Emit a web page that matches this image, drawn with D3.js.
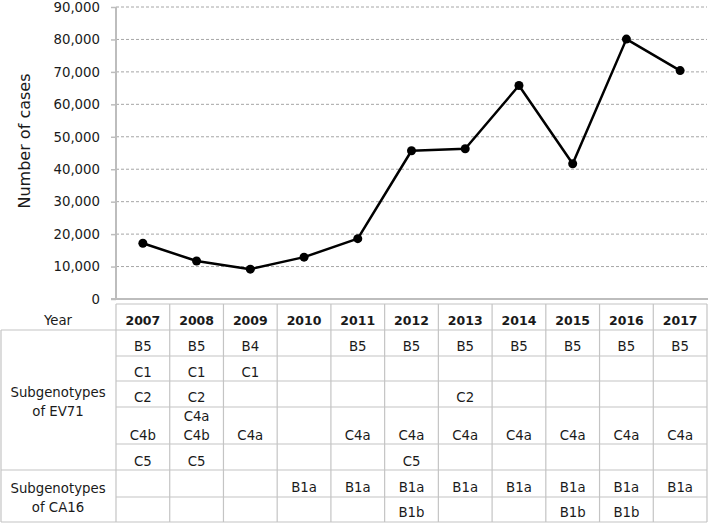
<!DOCTYPE html>
<html>
<head>
<meta charset="utf-8">
<script src="https://cdn.jsdelivr.net/npm/d3@7/dist/d3.min.js"></script>
<style>
  html, body { margin: 0; padding: 0; background: #fff; }
  svg { display: block; font-family: "DejaVu Sans", Verdana, sans-serif; }
</style>
</head>
<body>
<svg id="chart" width="709" height="523"></svg>
<script>
// ---------- data ----------
const years = ['2007','2008','2009','2010','2011','2012','2013','2014','2015','2016','2017'];
const cases = [17200, 11700, 9200, 12900, 18600, 45700, 46300, 65800, 41700, 80100, 70400];
const yTicks = [0, 10000, 20000, 30000, 40000, 50000, 60000, 70000, 80000, 90000];

const rowB5  = ['B5','B5','B4','','B5','B5','B5','B5','B5','B5','B5'];
const rowC1  = ['C1','C1','C1','','','','','','','',''];
const rowC2  = ['C2','C2','','','','','C2','','','',''];
const rowC4  = [['C4b'],['C4a','C4b'],['C4a'],[],['C4a'],['C4a'],['C4a'],['C4a'],['C4a'],['C4a'],['C4a']];
const rowC5  = ['C5','C5','','','','C5','','','','',''];
const rowB1a = ['','','','B1a','B1a','B1a','B1a','B1a','B1a','B1a','B1a'];
const rowB1b = ['','','','','','B1b','','','B1b','B1b',''];

const groupLabels = [['Subgenotypes','of EV71'], ['Subgenotypes','of CA16']];
const yearLabel = 'Year';
const yTitle = 'Number of cases';

// ---------- layout ----------
(function () {
const svg = d3.select('#chart');
const pLeft = 116, pRight = 707, pTop = 7, pBottom = 299;

const x = d3.scaleBand().domain(years).range([pLeft, pRight]).padding(0);
const y = d3.scaleLinear().domain([0, 90000]).range([pBottom, pTop]);

const grey = '#bdbdbd';
const textCol = '#1a1a1a';

// gridlines
svg.append('g').selectAll('line')
  .data(yTicks.filter(d => d > 0))
  .join('line')
  .attr('x1', pLeft).attr('x2', pRight)
  .attr('y1', d => y(d)).attr('y2', d => y(d))
  .attr('stroke', '#a6a6a6').attr('stroke-width', 1)
  .attr('stroke-dasharray', '3,2');

// y axis
const yAxis = d3.axisLeft(y).tickValues(yTicks).tickFormat(d3.format(',')).tickSize(5).tickPadding(11);
const gy = svg.append('g').attr('transform', `translate(${pLeft},0)`).call(yAxis);
gy.select('.domain').attr('stroke', grey).attr('stroke-width', 2).attr('d', `M0,${pTop}V${pBottom}`);
gy.selectAll('.tick line').attr('stroke', grey).attr('stroke-width', 1.5);
gy.selectAll('.tick text').attr('font-size', 13.3).attr('fill', textCol)
  .attr('font-family', '"DejaVu Sans", Verdana, sans-serif');

// x axis line
svg.append('line')
  .attr('x1', pLeft - 5).attr('x2', pRight + 1)
  .attr('y1', pBottom).attr('y2', pBottom)
  .attr('stroke', grey).attr('stroke-width', 2);

// y title
svg.append('text')
  .attr('transform', 'translate(30,141) rotate(-90)')
  .attr('text-anchor', 'middle')
  .attr('font-size', 16).attr('fill', textCol)
  .text(yTitle);

// line
const pts = years.map((yr, i) => ({ yr, v: cases[i] }));
const line = d3.line().x(d => x(d.yr) + x.bandwidth() / 2).y(d => y(d.v));
svg.append('path').datum(pts)
  .attr('d', line).attr('fill', 'none')
  .attr('stroke', '#000').attr('stroke-width', 2.5).attr('stroke-linejoin', 'round');
svg.append('g').selectAll('circle').data(pts).join('circle')
  .attr('cx', d => x(d.yr) + x.bandwidth() / 2)
  .attr('cy', d => y(d.v))
  .attr('r', 4.5).attr('fill', '#000');

// ---------- table ----------
const rowEdges = [304, 330, 356, 381, 407, 444, 470, 497, 522];
const tbl = svg.append('g');
const tblLine = '#c4c4c4';

rowEdges.forEach(e => {
  tbl.append('line').attr('x1', pLeft).attr('x2', pRight).attr('y1', e).attr('y2', e)
    .attr('stroke', tblLine).attr('stroke-width', 1.2);
});
[330, 470, 522].forEach(e => {
  tbl.append('line').attr('x1', 1).attr('x2', pLeft).attr('y1', e).attr('y2', e)
    .attr('stroke', tblLine).attr('stroke-width', 1.2);
});
tbl.append('line').attr('x1', 1).attr('x2', 1).attr('y1', 330).attr('y2', 522)
  .attr('stroke', tblLine).attr('stroke-width', 1.2);
const vEdges = years.map(d => x(d)).concat([pRight]);
vEdges.forEach(vx => {
  tbl.append('line').attr('x1', vx).attr('x2', vx).attr('y1', 304).attr('y2', 522)
    .attr('stroke', tblLine).attr('stroke-width', 1.2);
});

const cx = d => x(d) + x.bandwidth() / 2;
tbl.append('text').attr('x', 58).attr('y', 320.5).attr('dy', '0.35em')
  .attr('text-anchor', 'middle').attr('font-size', 13.3).attr('fill', textCol).text(yearLabel);
tbl.selectAll('.yr').data(years).join('text')
  .attr('x', d => cx(d)).attr('y', 321).attr('dy', '0.35em')
  .attr('text-anchor', 'middle').attr('font-size', 12.5).attr('font-weight', 'bold')
  .attr('fill', textCol).text(d => d);

function drawRow(vals, yc) {
  tbl.append('g').selectAll('text').data(years).join('text')
    .attr('x', d => cx(d)).attr('y', yc).attr('dy', '0.35em')
    .attr('text-anchor', 'middle').attr('font-size', 13.3).attr('fill', textCol)
    .text((d, i) => vals[i]);
}
drawRow(rowB5, 346.5);
drawRow(rowC1, 372);
drawRow(rowC2, 397);
years.forEach((d, i) => {
  const arr = rowC4[i];
  arr.forEach((t, j) => {
    tbl.append('text').attr('x', cx(d)).attr('y', 435.3 - (arr.length - 1 - j) * 18.6).attr('dy', '0.35em')
      .attr('text-anchor', 'middle').attr('font-size', 13.3).attr('fill', textCol).text(t);
  });
});
drawRow(rowC5, 461);
drawRow(rowB1a, 487);
drawRow(rowB1b, 512);

const groupCenters = [402, 497.5];
groupLabels.forEach((lines, gi) => {
  lines.forEach((t, j) => {
    tbl.append('text').attr('x', 58).attr('y', groupCenters[gi] - 9.5 + j * 19).attr('dy', '0.35em')
      .attr('text-anchor', 'middle').attr('font-size', 13.3).attr('fill', textCol).text(t);
  });
});
})();
</script>
</body>
</html>
